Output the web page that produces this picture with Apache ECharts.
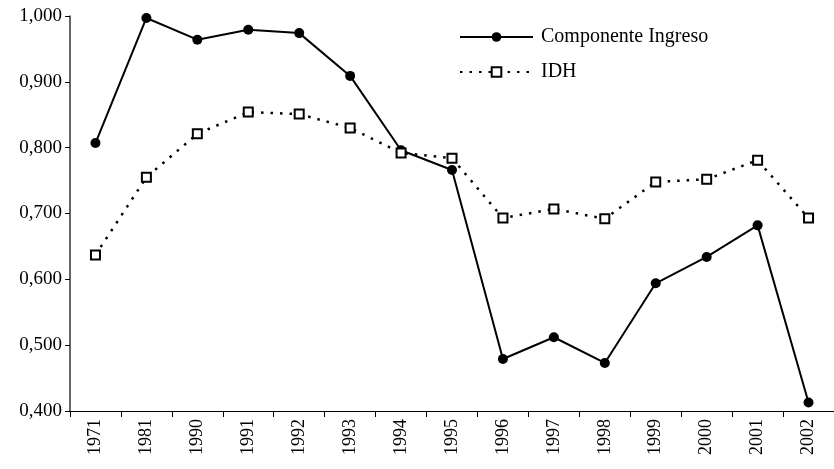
<!DOCTYPE html>
<html><head><meta charset="utf-8">
<script src="https://cdn.jsdelivr.net/npm/echarts@6/dist/echarts.min.js"></script>
<style>html,body{margin:0;padding:0;background:#fff}#c{width:834px;height:469px}</style>
</head><body><div id="c"></div>
<script>
const categories = ['1971','1981','1990','1991','1992','1993','1994','1995','1996','1997','1998','1999','2000','2001','2002'];
const ingreso = [0.807,0.997,0.964,0.979,0.974,0.909,0.796,0.766,0.479,0.512,0.473,0.594,0.634,0.682,0.413];
const idh = [0.637,0.755,0.821,0.854,0.851,0.830,0.792,0.784,0.693,0.707,0.692,0.748,0.752,0.781,0.693];
const yTicks = [0.4,0.5,0.6,0.7,0.8,0.9,1.0];

const font = 'Liberation Serif';
const chart = echarts.init(document.getElementById('c'));
chart.setOption({
  animation:false,
  textStyle:{fontFamily:font,color:'#000'},
  grid:{left:70,right:-5,top:16,bottom:58,containLabel:false},
  legend:{
    orient:'vertical', left:454, top:22, itemWidth:73, itemHeight:12, itemGap:15,
    textStyle:{fontFamily:font,fontSize:20,color:'#000',padding:[0,0,0,3]},
    data:['Componente Ingreso','IDH']
  },
  xAxis:{
    type:'category', data:categories, boundaryGap:true,
    axisLine:{lineStyle:{color:'#000',width:1}},
    axisTick:{show:true,inside:false,length:6,lineStyle:{color:'#000'}},
    axisLabel:{rotate:90,fontFamily:font,fontSize:18,color:'#000',margin:8}
  },
  yAxis:{
    type:'value', min:yTicks[0], max:yTicks[yTicks.length-1], interval:0.1,
    axisLine:{show:true,lineStyle:{color:'#333',width:1.5}},
    axisTick:{show:true,inside:false,length:5,lineStyle:{color:'#000'}},
    splitLine:{show:false},
    axisLabel:{fontFamily:font,fontSize:19,color:'#000',margin:8,
      formatter:v=>v.toFixed(3).replace('.',',')}
  },
  series:[
    {name:'Componente Ingreso',type:'line',data:ingreso,
     symbol:'circle',symbolSize:10,
     itemStyle:{color:'#000'},
     lineStyle:{color:'#000',width:2}},
    {name:'IDH',type:'line',data:idh,
     symbol:'rect',symbolSize:9,
     itemStyle:{color:'#fff',borderColor:'#000',borderWidth:2},
     lineStyle:{color:'#000',width:2.5,type:[2.5,7]}}
  ]
});
</script></body></html>
